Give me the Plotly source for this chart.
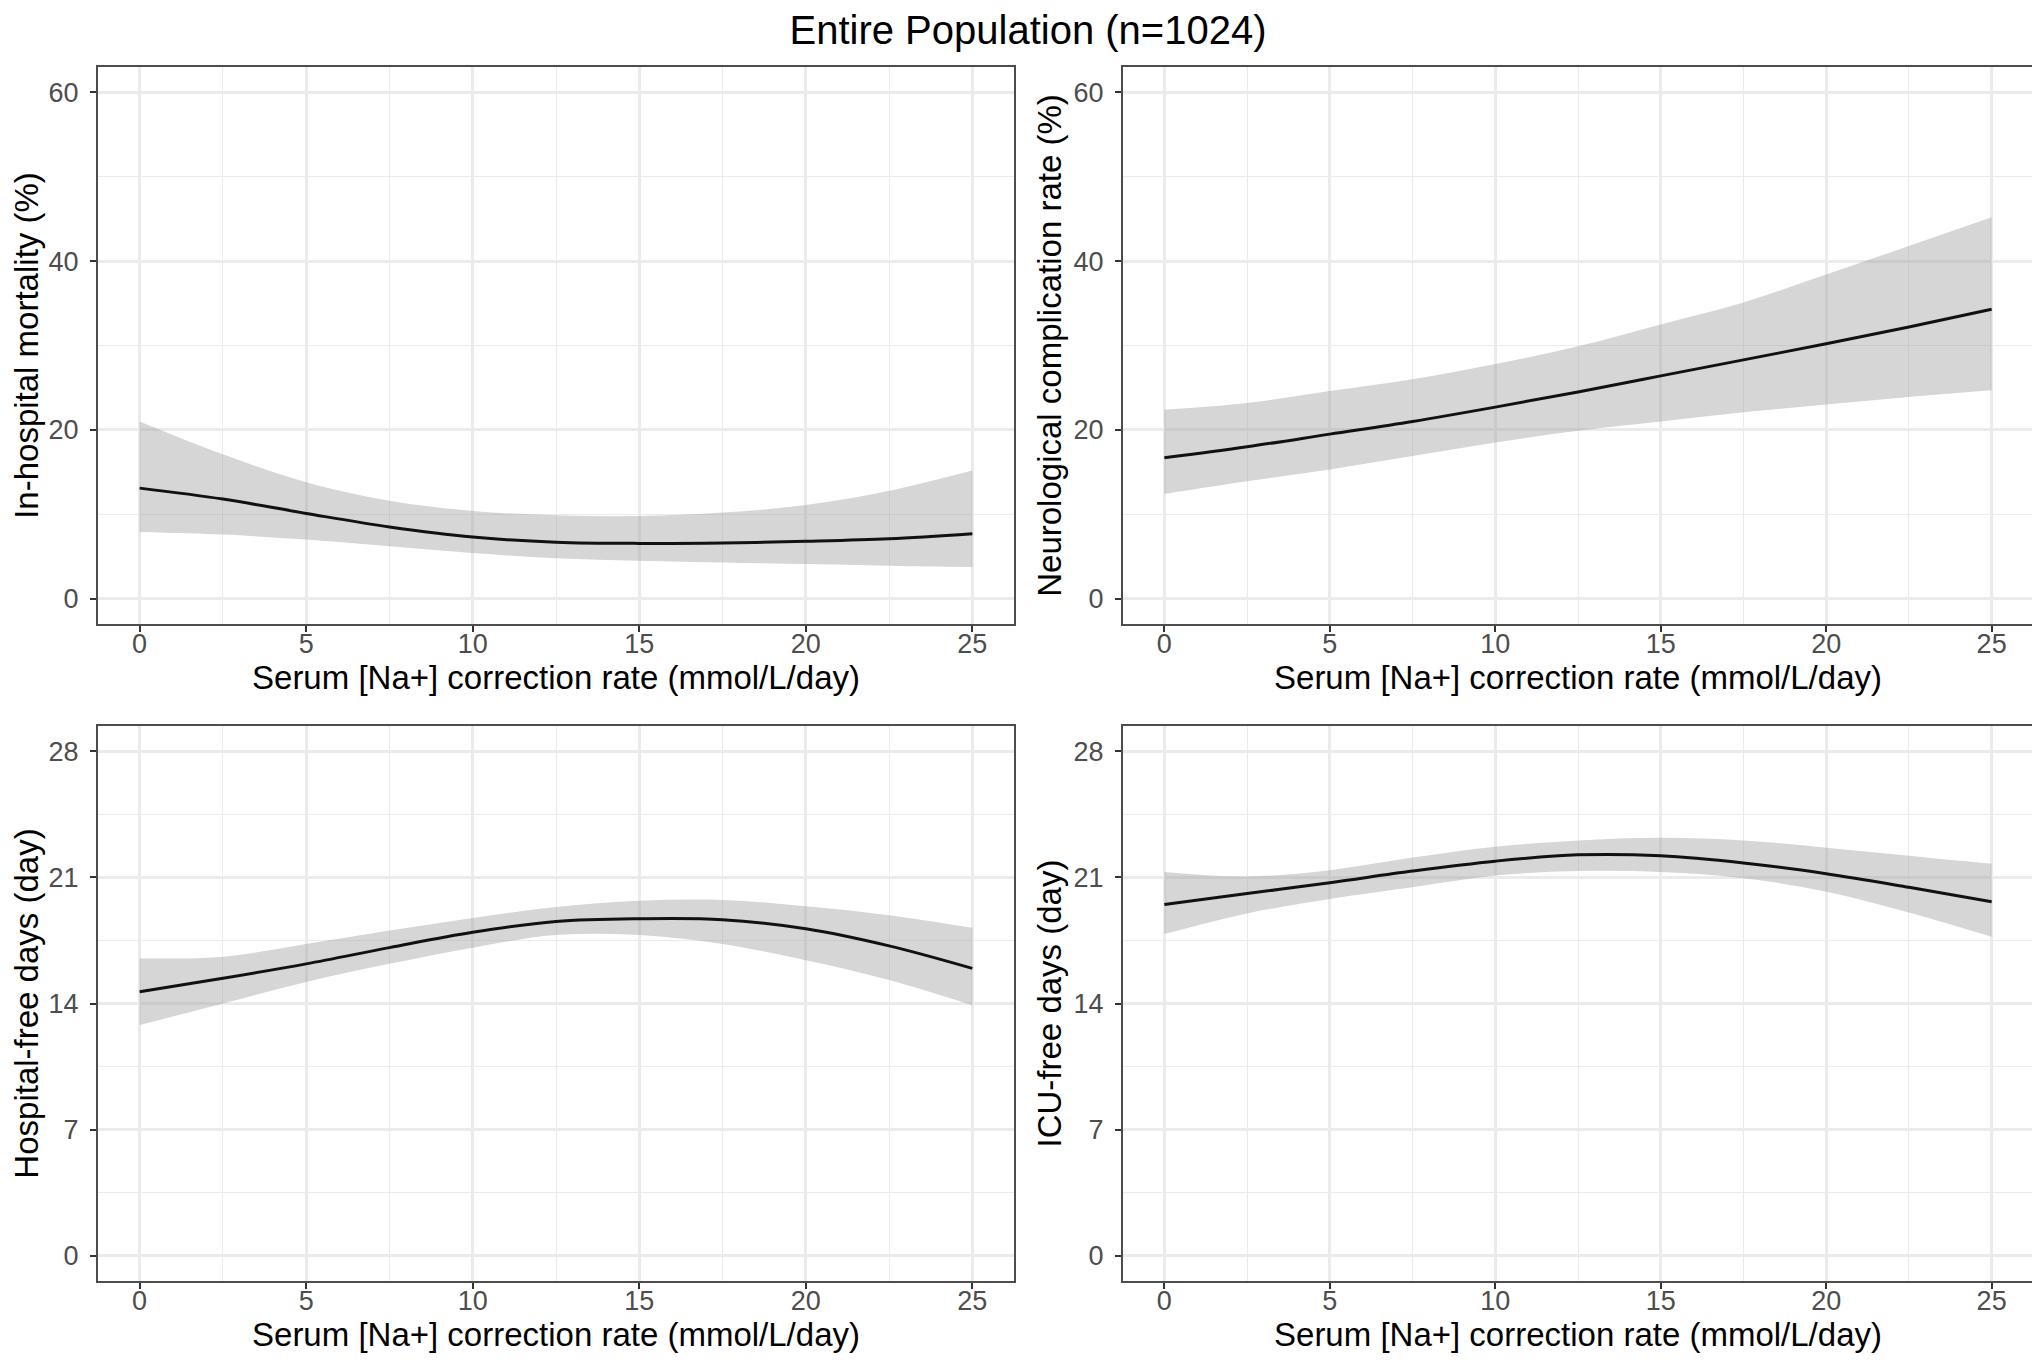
import plotly.graph_objects as go

# ---- data ----
rate = [0, 2.5, 5, 7.5, 10, 12.5, 15, 17.5, 20, 22.5, 25]

mort_fit = [13.1, 11.8, 10.1, 8.5, 7.3, 6.7, 6.55, 6.6, 6.8, 7.1, 7.7]
mort_hi = [21.0, 17.1, 13.8, 11.6, 10.4, 9.9, 9.8, 10.2, 11.1, 12.8, 15.2]
mort_lo = [7.9, 7.6, 7.0, 6.2, 5.4, 4.8, 4.5, 4.3, 4.1, 3.9, 3.75]

neuro_fit = [16.7, 18.0, 19.5, 21.0, 22.7, 24.5, 26.4, 28.3, 30.2, 32.2, 34.3]
neuro_hi = [22.4, 23.2, 24.6, 26.0, 27.8, 29.9, 32.5, 35.1, 38.4, 41.8, 45.2]
neuro_lo = [12.4, 13.9, 15.3, 16.9, 18.5, 19.9, 21.0, 22.1, 23.0, 23.9, 24.7]

hosp_fit = [14.65, 15.4, 16.2, 17.1, 17.95, 18.55, 18.7, 18.65, 18.15, 17.2, 15.95]
hosp_hi = [16.5, 16.6, 17.3, 18.05, 18.75, 19.35, 19.7, 19.75, 19.4, 18.9, 18.2]
hosp_lo = [12.8, 14.0, 15.2, 16.2, 17.1, 17.8, 17.8, 17.3, 16.4, 15.3, 13.9]

icu_fit = [19.5, 20.1, 20.7, 21.35, 21.9, 22.25, 22.2, 21.8, 21.2, 20.45, 19.65]
icu_hi = [21.3, 21.05, 21.4, 22.1, 22.7, 23.05, 23.2, 23.05, 22.65, 22.2, 21.75]
icu_lo = [17.85, 19.0, 19.8, 20.45, 21.1, 21.35, 21.3, 20.95, 20.2, 19.05, 17.7]

x_ticks = [0, 5, 10, 15, 20, 25]
pct_ticks = [0, 20, 40, 60]
day_ticks = [0, 7, 14, 21, 28]

title_text = "Entire Population (n=1024)"
x_title = "Serum [Na+] correction rate (mmol/L/day)"
y_titles = ["In-hospital mortality (%)", "Neurological complication rate (%)",
            "Hospital-free days (day)", "ICU-free days (day)"]

# ---- styling ----
W, H = 2040, 1360
FONT = "Liberation Sans, Arial, sans-serif"
RIBBON = "rgba(153,153,153,0.4)"
GRID = "#ebebeb"
BORDER = "#4d4d4d"

panels = [
    (mort_fit, mort_hi, mort_lo, "x", "y"),
    (neuro_fit, neuro_hi, neuro_lo, "x2", "y2"),
    (hosp_fit, hosp_hi, hosp_lo, "x3", "y3"),
    (icu_fit, icu_hi, icu_lo, "x4", "y4"),
]

fig = go.Figure()
for fit, hi, lo, xa, ya in panels:
    fig.add_trace(go.Scatter(x=rate, y=lo, mode="lines", line=dict(width=0, shape="spline", smoothing=1.0),
                             xaxis=xa, yaxis=ya, showlegend=False, hoverinfo="skip"))
    fig.add_trace(go.Scatter(x=rate, y=hi, mode="lines", line=dict(width=0, shape="spline", smoothing=1.0),
                             fill="tonexty", fillcolor=RIBBON,
                             xaxis=xa, yaxis=ya, showlegend=False, hoverinfo="skip"))
    fig.add_trace(go.Scatter(x=rate, y=fit, mode="lines", line=dict(color="#111111", width=3, shape="spline", smoothing=1.0),
                             xaxis=xa, yaxis=ya, showlegend=False))

# panel domains in pixels
xdoms = [(90, 1006), (1115, 2025)]
ydoms = [(59, 616), (718, 1273)]


def xd(i):
    a, b = xdoms[i]
    return [a / W, b / W]


def yd(i):
    a, b = ydoms[i]
    return [1 - b / H, 1 - a / H]


TICKFONT = dict(family=FONT, size=27, color="#4d4d4d")
TITLEFONT = dict(family=FONT, size=33, color="#000000")

common_x = dict(range=[-1.25, 26.25], tick0=0, dtick=5, tickmode="linear",
                showgrid=True, gridcolor=GRID, gridwidth=2.5,
                minor=dict(tick0=0, dtick=2.5, showgrid=True, gridcolor=GRID, gridwidth=1.2, ticks=""),
                zeroline=False, showline=True, mirror=True, linecolor=BORDER, linewidth=2,
                ticks="outside", ticklen=6, tickwidth=2, tickcolor="#333333",
                tickfont=TICKFONT, ticklabelstandoff=-11,
                title=dict(text=x_title, font=TITLEFONT, standoff=1),
                automargin=False)

common_y = dict(showgrid=True, gridcolor=GRID, gridwidth=2.5,
                zeroline=False, showline=True, mirror=True, linecolor=BORDER, linewidth=2,
                ticks="outside", ticklen=6, tickwidth=2, tickcolor="#333333",
                tickfont=TICKFONT, ticklabelstandoff=6,
                automargin=False)

layout_axes = {}
names = [("xaxis", "yaxis", 0, 0), ("xaxis2", "yaxis2", 1, 0), ("xaxis3", "yaxis3", 0, 1), ("xaxis4", "yaxis4", 1, 1)]
for k, (xn, yn, col, row) in enumerate(names):
    anchor_y = "y" if k == 0 else f"y{k+1}"
    anchor_x = "x" if k == 0 else f"x{k+1}"
    xa = dict(common_x)
    xa.update(domain=xd(col), anchor=anchor_y)
    ya = dict(common_y)
    if row == 0:
        ya.update(range=[-3, 63], tickmode="linear", tick0=0, dtick=20,
                  minor=dict(tick0=0, dtick=10, showgrid=True, gridcolor=GRID, gridwidth=1.2, ticks=""))
    else:
        ya.update(range=[-1.4, 29.4], tickmode="linear", tick0=0, dtick=7,
                  minor=dict(tick0=0, dtick=3.5, showgrid=True, gridcolor=GRID, gridwidth=1.2, ticks=""))
    ya.update(domain=yd(row), anchor=anchor_x,
              title=dict(text=y_titles[k], font=TITLEFONT, standoff=2))
    layout_axes[xn] = xa
    layout_axes[yn] = ya

fig.update_layout(
    width=W, height=H,
    margin=dict(l=0, r=0, t=0, b=0),
    paper_bgcolor="white", plot_bgcolor="white",
    title=dict(text=title_text, x=0.5, xanchor="center", y=1 - 22 / H, yanchor="middle",
               font=dict(family=FONT, size=40, color="#000000")),
    **layout_axes,
)

fig.write_html("out.html")
